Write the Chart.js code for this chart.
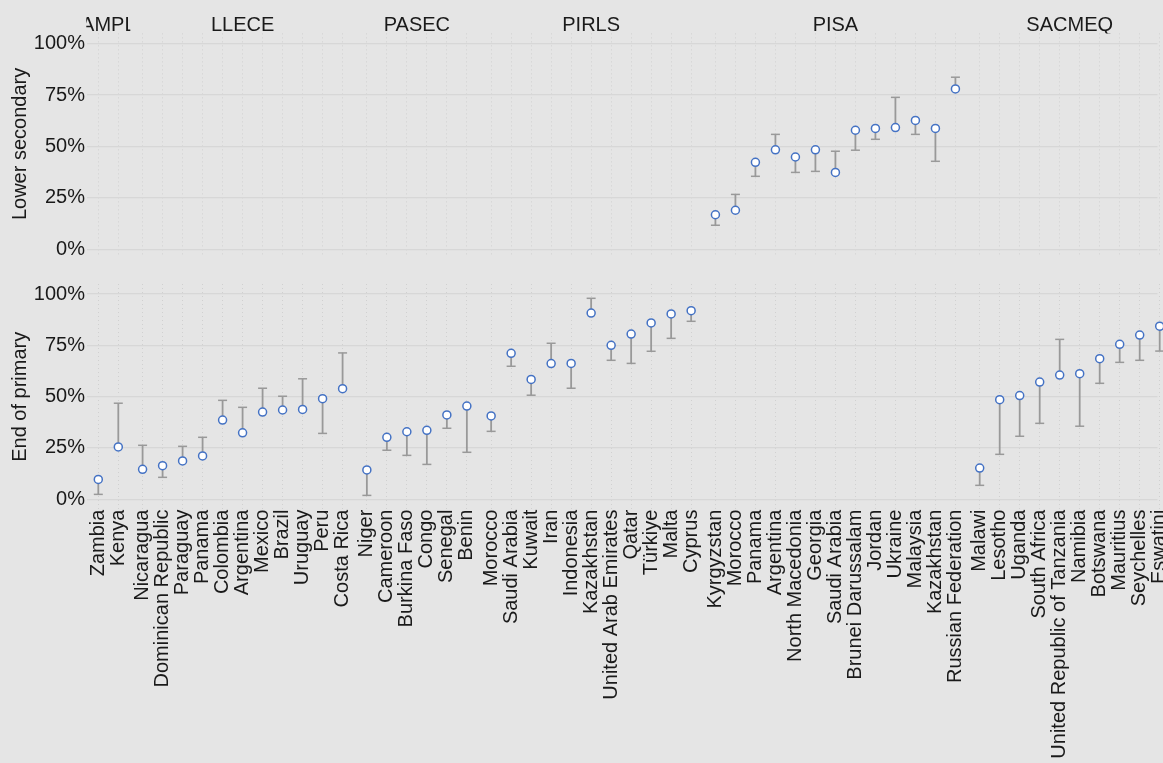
<!DOCTYPE html>
<html>
<head>
<meta charset="utf-8">
<script src="https://cdn.jsdelivr.net/npm/chart.js@4.4.1/dist/chart.umd.min.js"></script>
<style>
  html, body { margin: 0; padding: 0; background: #e5e5e5; overflow: hidden; }
  #wrap { position: relative; width: 1163px; height: 763px; overflow: hidden; }
  #topBox { position: absolute; left: 0; top: 0; width: 1163px; height: 260px; }
  #bottomBox { position: absolute; left: 0; top: 260px; width: 1163px; height: 503px; }
</style>
</head>
<body>
<div id="wrap">
  <div id="topBox"><canvas id="chartTop"></canvas></div>
  <div id="bottomBox"><canvas id="chartBottom"></canvas></div>
</div>
<script>
const assessments = ["AMPL", "LLECE", "PASEC", "PIRLS", "PISA", "SACMEQ"];

const countries = [
  "Zambia", "Kenya",
  "Nicaragua", "Dominican Republic", "Paraguay", "Panama", "Colombia", "Argentina", "Mexico", "Brazil", "Uruguay", "Peru", "Costa Rica",
  "Niger", "Cameroon", "Burkina Faso", "Congo", "Senegal", "Benin",
  "Morocco", "Saudi Arabia", "Kuwait", "Iran", "Indonesia", "Kazakhstan", "United Arab Emirates", "Qatar", "Türkiye", "Malta", "Cyprus",
  "Kyrgyzstan", "Morocco", "Panama", "Argentina", "North Macedonia", "Georgia", "Saudi Arabia", "Brunei Darussalam", "Jordan", "Ukraine", "Malaysia", "Kazakhstan", "Russian Federation",
  "Malawi", "Lesotho", "Uganda", "South Africa", "United Republic of Tanzania", "Namibia", "Botswana", "Mauritius", "Seychelles", "Eswatini"
];

// index into assessments for every country
const countryAssessment = [
  0, 0,
  1, 1, 1, 1, 1, 1, 1, 1, 1, 1, 1,
  2, 2, 2, 2, 2, 2,
  3, 3, 3, 3, 3, 3, 3, 3, 3, 3, 3,
  4, 4, 4, 4, 4, 4, 4, 4, 4, 4, 4, 4, 4,
  5, 5, 5, 5, 5, 5, 5, 5, 5, 5
];

// End of primary: point value and the other end of the bar (%)
const primaryValue = [
  9.7, 25.5,
  14.6, 16.4, 18.7, 21.1, 38.6, 32.4, 42.5, 43.5, 43.8, 49.0, 53.9,
  14.3, 30.2, 32.9, 33.6, 41.1, 45.4,
  40.6, 71.1, 58.4, 66.1, 66.2, 90.7, 75.0, 80.5, 85.9, 90.3, 91.9,
  null, null, null, null, null, null, null, null, null, null, null, null, null,
  15.2, 48.5, 50.5, 57.1, 60.5, 61.2, 68.5, 75.5, 80.0, 84.3
];
const primaryEnd = [
  2.4, 46.8,
  26.3, 10.7, 25.8, 30.2, 48.2, 44.8, 54.1, 50.2, 58.7, 32.1, 71.3,
  1.9, 23.9, 21.4, 17.0, 34.6, 22.9,
  33.1, 64.8, 50.7, 76.0, 54.1, 97.9, 67.7, 66.2, 72.1, 78.4, 86.7,
  null, null, null, null, null, null, null, null, null, null, null, null, null,
  6.8, 21.9, 30.7, 37.0, 77.9, 35.6, 56.5, 66.7, 67.7, 72.2
];

// Lower secondary
const secondaryValue = [
  null, null,
  null, null, null, null, null, null, null, null, null, null, null,
  null, null, null, null, null, null,
  null, null, null, null, null, null, null, null, null, null, null,
  16.8, 19.0, 42.3, 48.4, 44.9, 48.4, 37.4, 57.9, 58.8, 59.2, 62.7, 58.8, 78.0,
  null, null, null, null, null, null, null, null, null, null
];
const secondaryEnd = [
  null, null,
  null, null, null, null, null, null, null, null, null, null, null,
  null, null, null, null, null, null,
  null, null, null, null, null, null, null, null, null, null, null,
  11.7, 26.7, 35.5, 55.9, 37.4, 37.9, 47.7, 48.2, 53.5, 73.9, 55.9, 42.8, 83.7,
  null, null, null, null, null, null, null, null, null, null
];

const yTicks = [0, 25, 50, 75, 100];

const textColor = "#1a1a1a";
const fontFamily = "'Liberation Sans', Arial, sans-serif";
const groupGap = 0.214;
const slotPx = 20;
const firstPx = 98.3;
const positions = countries.map((c, i) => i + countryAssessment[i] * groupGap);

// keep slot width and the 0–100% span fixed whatever room the layout leaves
const pinScales = (zeroPx, pctPx) => ({
  id: "pinScales",
  afterLayout(chart) {
    const { x, y } = chart.scales;
    x.min = (x.left - firstPx) / slotPx;
    x.max = (x.right - firstPx) / slotPx;
    x.configure();
    y.min = (zeroPx - y.bottom) / pctPx;
    y.max = (zeroPx - y.top) / pctPx;
    y.configure();
  },
});

const errorBars = (values, ends) => ({
  id: "errorBars",
  beforeDatasetsDraw(chart) {
    const { ctx, scales: { x, y } } = chart;
    ctx.save();
    ctx.strokeStyle = "#999999";
    values.forEach((v, i) => {
      if (v === null || ends[i] === null) return;
      const px = x.getPixelForValue(positions[i]);
      const py = y.getPixelForValue(v);
      const pe = y.getPixelForValue(ends[i]);
      ctx.lineWidth = 1.8;
      ctx.beginPath();
      ctx.moveTo(px, py);
      ctx.lineTo(px, pe);
      ctx.stroke();
      ctx.lineWidth = 1.5;
      ctx.beginPath();
      ctx.moveTo(px - 4.5, pe);
      ctx.lineTo(px + 4.5, pe);
      ctx.stroke();
    });
    ctx.restore();
  },
});

// facet strip labels above the top panel
const stripLabels = {
  id: "stripLabels",
  afterDraw(chart) {
    const { ctx, chartArea, scales: { x } } = chart;
    assessments.forEach((name, g) => {
      const idx = positions.filter((p, i) => countryAssessment[i] === g);
      const left = x.getPixelForValue(idx[0] - 0.6);
      const right = x.getPixelForValue(idx[idx.length - 1] + 0.6);
      ctx.save();
      ctx.beginPath();
      ctx.rect(left, 0, right - left, chartArea.top);
      ctx.clip();
      ctx.fillStyle = textColor;
      ctx.font = "20px " + fontFamily;
      ctx.textAlign = "center";
      ctx.textBaseline = "middle";
      ctx.fillText(name, (left + right) / 2, 25);
      ctx.restore();
    });
  },
};

const makeChart = (id, title, values, ends, isBottom) => {
  const points = [];
  values.forEach((v, i) => {
    if (v !== null) points.push({ x: positions[i], y: v });
  });
  const extra = isBottom
    ? [pinScales(239.3, 2.053), errorBars(values, ends)]
    : [pinScales(249.3, 2.056), errorBars(values, ends), stripLabels];
  return new Chart(document.getElementById(id), {
    type: "scatter",
    data: {
      datasets: [
        {
          data: points,
          pointRadius: 4,
          pointBackgroundColor: "#ffffff",
          pointBorderColor: "#4472c4",
          pointBorderWidth: 1.5,
          clip: false,
        },
      ],
    },
    options: {
      responsive: true,
      maintainAspectRatio: false,
      animation: false,
      events: [],
      devicePixelRatio: 1,
      layout: {
        padding: { top: isBottom ? 24 : 33.4, bottom: 0, left: 0, right: 0 },
      },
      plugins: {
        legend: { display: false },
        tooltip: { enabled: false },
      },
      scales: {
        x: {
          type: "linear",
          min: -0.565,
          max: 53.235,
          afterBuildTicks: (s) => {
            s.ticks = positions.map((p) => ({ value: p }));
          },
          afterFit: (s) => {
            s.height = isBottom ? 253.4 : 0;
            s.paddingLeft = 0;
            s.paddingRight = 0;
          },
          ticks: {
            display: isBottom,
            autoSkip: false,
            minRotation: 90,
            maxRotation: 90,
            padding: 0,
            color: textColor,
            font: { size: 20, family: fontFamily },
            callback: (v, i) => countries[i],
          },
          grid: { color: "#d0d0d0", lineWidth: 1, drawTicks: false },
          border: { display: false, dash: [1, 3] },
        },
        y: {
          min: -5,
          max: 105,
          afterBuildTicks: (s) => {
            s.ticks = yTicks.map((v) => ({ value: v }));
          },
          afterFit: (s) => {
            s.width = 87;
            s.paddingTop = 0;
            s.paddingBottom = 0;
          },
          ticks: {
            padding: 2,
            color: textColor,
            font: { size: 20, family: fontFamily },
            callback: (v) => v + "%",
          },
          grid: { color: "#d7d7d7", lineWidth: 1.3, drawTicks: false },
          border: { display: false },
          title: {
            display: true,
            text: title,
            color: textColor,
            font: { size: 20, family: fontFamily },
            padding: { top: 8, bottom: 0 },
          },
        },
      },
    },
    plugins: extra,
  });
};

makeChart("chartTop", "Lower secondary", secondaryValue, secondaryEnd, false);
makeChart("chartBottom", "End of primary", primaryValue, primaryEnd, true);
</script>
</body>
</html>
